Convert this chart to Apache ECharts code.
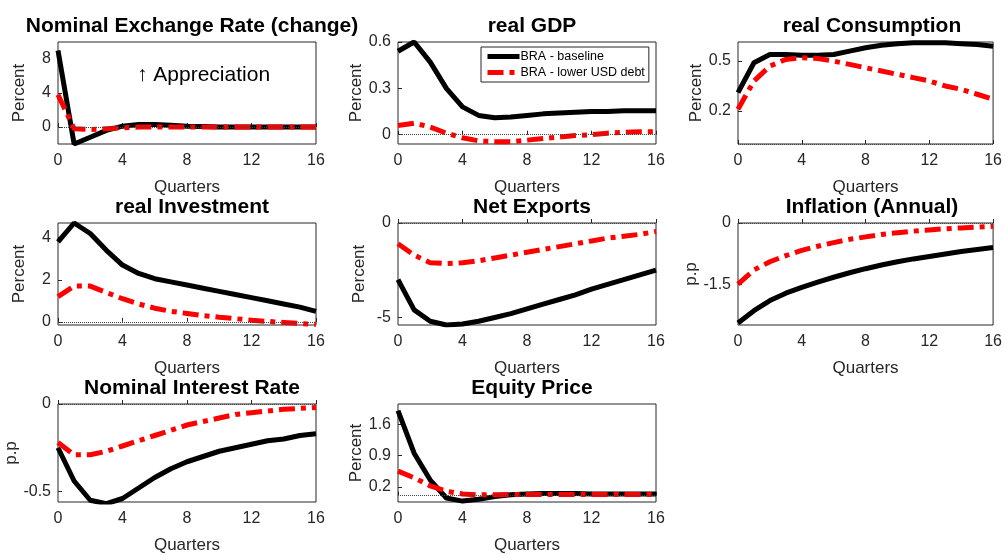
<!DOCTYPE html>
<html><head><meta charset="utf-8">
<script src="https://cdn.jsdelivr.net/npm/echarts@6/dist/echarts.min.js"></script>
<style>html,body{margin:0;padding:0;background:#fff}#c{width:1005px;height:555px}</style>
</head><body><div id="c"></div>
<script>
var quarters=[0,1,2,3,4,5,6,7,8,9,10,11,12,13,14,15,16];
var titles=["Nominal Exchange Rate (change)","real GDP","real Consumption","real Investment","Net Exports","Inflation (Annual)","Nominal Interest Rate","Equity Price"];
var yNames=["Percent","Percent","Percent","Percent","Percent","p.p","p.p","Percent"];
var yTicks=[[0,4,8],[0,0.3,0.6],[0.2,0.5],[0,2,4],[-5,0],[-1.5,0],[-0.5,0],[0.2,0.9,1.6]];
var yMin=[-2,-0.06,0,-0.15,-5.4,-2.5,-0.56,-0.14];
var yMax=[10,0.6,0.615,4.7,0,0,0,2.05];
var exBase=[9,-2,-1.2,-0.4,0.1,0.3,0.3,0.2,0.1,0.05,0,0,0,0,0,0,0];
var exLow=[3.8,-0.2,-0.3,-0.2,-0.1,0,0,0,0,0,0,0,0,0,0,0,0];
var gdpBase=[0.54,0.60,0.47,0.30,0.18,0.125,0.11,0.115,0.125,0.135,0.14,0.145,0.15,0.15,0.155,0.155,0.155];
var gdpLow=[0.06,0.075,0.05,0.01,-0.02,-0.04,-0.045,-0.045,-0.035,-0.025,-0.015,-0.005,0.0,0.01,0.015,0.02,0.02];
var conBase=[0.31,0.49,0.54,0.54,0.535,0.535,0.54,0.56,0.58,0.595,0.605,0.61,0.61,0.61,0.605,0.60,0.59];
var conLow=[0.21,0.38,0.47,0.51,0.52,0.515,0.5,0.48,0.46,0.44,0.42,0.40,0.38,0.35,0.33,0.30,0.27];
var invBase=[3.8,4.7,4.2,3.4,2.7,2.3,2.05,1.9,1.75,1.6,1.45,1.3,1.15,1.0,0.85,0.7,0.5];
var invLow=[1.2,1.7,1.7,1.4,1.1,0.85,0.65,0.5,0.4,0.3,0.22,0.15,0.08,0.02,-0.03,-0.08,-0.12];
var nxBase=[-3.0,-4.6,-5.2,-5.4,-5.35,-5.2,-5.0,-4.8,-4.55,-4.3,-4.05,-3.8,-3.5,-3.25,-3.0,-2.75,-2.5];
var nxLow=[-1.1,-1.7,-2.1,-2.15,-2.1,-2.0,-1.85,-1.7,-1.55,-1.4,-1.25,-1.1,-0.95,-0.8,-0.7,-0.6,-0.45];
var infBase=[-2.45,-2.15,-1.9,-1.72,-1.58,-1.45,-1.33,-1.22,-1.12,-1.03,-0.95,-0.88,-0.82,-0.76,-0.7,-0.65,-0.6];
var infLow=[-1.5,-1.15,-0.95,-0.8,-0.67,-0.57,-0.48,-0.4,-0.34,-0.28,-0.24,-0.2,-0.17,-0.14,-0.12,-0.1,-0.08];
var irBase=[-0.25,-0.44,-0.55,-0.57,-0.54,-0.48,-0.42,-0.37,-0.33,-0.3,-0.27,-0.25,-0.23,-0.21,-0.2,-0.18,-0.17];
var irLow=[-0.22,-0.29,-0.29,-0.27,-0.24,-0.21,-0.18,-0.15,-0.12,-0.1,-0.08,-0.06,-0.05,-0.04,-0.03,-0.025,-0.02];
var eqBase=[1.9,0.95,0.35,-0.05,-0.12,-0.08,-0.02,0.02,0.04,0.05,0.05,0.05,0.04,0.04,0.04,0.04,0.04];
var eqLow=[0.55,0.4,0.22,0.1,0.04,0.02,0.02,0.03,0.03,0.03,0.03,0.03,0.03,0.03,0.03,0.03,0.03];
var baseSets=[exBase,gdpBase,conBase,invBase,nxBase,infBase,irBase,eqBase];
var lowSets=[exLow,gdpLow,conLow,invLow,nxLow,infLow,irLow,eqLow];

var colX=[[58,316],[398,656],[738,996]];
var rowY=[[42,144],[223,325],[404,507]];
var grids=[],xAxes=[],yAxes=[],series=[],titleArr=[],graphics=[];
var ax={color:'#262626',fontSize:16,fontFamily:'Liberation Sans'};
var nm={color:'#262626',fontSize:17,fontFamily:'Liberation Sans'};
for(var i=0;i<8;i++){
  var c=i%3,r=Math.floor(i/3);
  var L=colX[c][0],R=colX[c][1],T=rowY[r][0],B=rowY[r][1];
  grids.push({left:L,top:T,width:R-L,height:B-T,show:true,borderColor:'#262626',borderWidth:1,backgroundColor:'transparent'});
  xAxes.push({type:'value',gridIndex:i,min:0,max:16,interval:4,
    axisLine:{show:false},axisTick:{inside:true,length:4,lineStyle:{color:'#262626'}},
    splitLine:{show:false},axisLabel:Object.assign({margin:9},ax),
    name:'Quarters',nameLocation:'middle',nameGap:35,nameTextStyle:nm});
  yAxes.push({type:'value',gridIndex:i,min:yMin[i],max:yMax[i],
    axisLine:{show:false},splitLine:{show:false},
    axisTick:{inside:true,length:4,customValues:yTicks[i],lineStyle:{color:'#262626'}},
    axisLabel:Object.assign({customValues:yTicks[i],margin:7},ax),
    name:yNames[i],nameLocation:'middle',nameGap:yNames[i]==='p.p'?38:30,nameTextStyle:nm});
  titleArr.push({text:titles[i],left:(L+R)/2,top:T-31,textAlign:'center',
    textStyle:{fontSize:21,fontWeight:'bold',color:'#000',fontFamily:'Liberation Sans'}});
  var mk=function(arr){return quarters.map(function(q,k){return [q,arr[k]];});};
  series.push({type:'line',name:'BRA - baseline',xAxisIndex:i,yAxisIndex:i,data:mk(baseSets[i]),
    symbol:'none',lineStyle:{color:'#000',width:5},itemStyle:{color:'#000'},z:3,
    markLine:{silent:true,symbol:'none',label:{show:false},lineStyle:{color:'#444',type:'dotted',width:1},data:[{yAxis:0}]}});
  series.push({type:'line',name:'BRA - lower USD debt',xAxisIndex:i,yAxisIndex:i,data:mk(lowSets[i]),
    symbol:'none',lineStyle:{color:'#ff0000',width:5,type:[16,6,5,6]},itemStyle:{color:'#ff0000'},z:4});
}
graphics.push({type:'text',left:137,top:65,style:{text:'\u2191 Appreciation',fontSize:21,fill:'#000',fontFamily:'Liberation Sans'}});
var chart=echarts.init(document.getElementById('c'));
chart.setOption({animation:false,title:titleArr,grid:grids,xAxis:xAxes,yAxis:yAxes,series:series,graphic:graphics,
  legend:{data:['BRA - baseline','BRA - lower USD debt'],left:481,top:47,orient:'vertical',itemGap:3,itemWidth:32,itemHeight:12,
    itemStyle:{opacity:0},lineStyle:{width:5},
    borderColor:'#262626',borderWidth:1,padding:[3,4,3,4],backgroundColor:'#fff',
    textStyle:{fontSize:12.5,color:'#000',fontFamily:'Liberation Sans',padding:[0,0,0,-4]}}});
</script></body></html>
